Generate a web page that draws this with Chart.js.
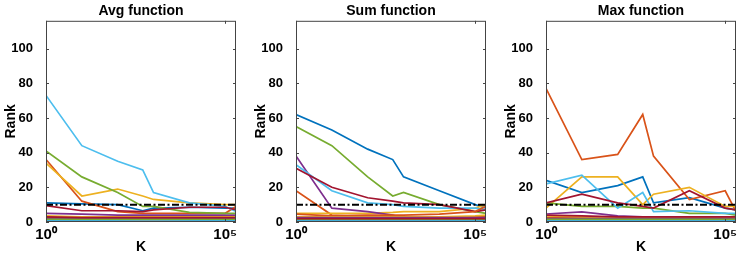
<!DOCTYPE html>
<html><head><meta charset="utf-8">
<script src="https://cdn.jsdelivr.net/npm/chart.js@4"></script>
<style>
html,body{margin:0;padding:0;background:#fff;width:743px;height:258px;overflow:hidden}
.p{position:absolute;top:0;width:243px;height:258px}
</style></head><body>
<div class="p" style="left:0px"><canvas id="c0"></canvas></div>
<div class="p" style="left:250px"><canvas id="c1"></canvas></div>
<div class="p" style="left:500px"><canvas id="c2"></canvas></div>
<script>
const kValues = [1, 10, 100, 500, 1000, 10000, 100000, 200000];
const xTickValues = [1, 100000];
const xTickLabels = ['10\u2070', '10\u2075'];
const yTickValues = [0, 20, 40, 60, 80, 100];
const thresholdRank = 10;
const panelTitles = ['Avg function', 'Sum function', 'Max function'];
const seriesColors = ['#0072BD', '#D95319', '#EDB120', '#7E2F8E', '#77AC30', '#4DBEEE', '#A2142F'];

const avgRanks = [
  [11, 10.5, 10, 6.5, 8, 8.5, 8, 8],
  [36, 12, 6, 5, 5, 5, 5, 9],
  [34, 15, 19, 15, 13, 11, 10, 10],
  [5, 4.5, 4, 4, 4, 4, 4, 4],
  [41, 26, 17, 9, 9, 5.5, 5, 5],
  [73, 44, 35, 30, 17, 11, 9, 6],
  [9.5, 6.5, 6.5, 6, 7, 8.5, 8.5, 7],
  [1, 1, 1, 1, 1, 1, 1, 1],
  [2.5, 2, 1.5, 1, 1, 1.5, 2, 2],
  [3.5, 3, 3, 3, 3, 3, 3, 3],
  [2, 2, 2, 2, 2, 2, 2, 2],
  [1.5, 1.5, 1.5, 1.5, 1.5, 1.5, 1.5, 1.5],
  [0.5, 0.5, 0.5, 0.5, 0.5, 0.5, 0.5, 0.5],
  [3, 2.5, 2.5, 2.5, 2.5, 2.5, 2.5, 2.5]
];
const sumRanks = [
  [62, 53, 42, 36, 26, 18, 10, 8],
  [18, 4, 3, 3, 3, 3, 3, 3],
  [5, 5, 5, 5.5, 6, 6, 8, 10],
  [38, 8, 6, 4, 2, 2, 2, 2],
  [55, 44, 26, 15, 17, 10, 6, 5],
  [33, 18, 11, 10, 9, 8, 8, 7],
  [31, 20, 14, 12, 11, 10, 6, 7],
  [1, 1, 1, 1, 1, 1, 1, 1],
  [4.5, 3.5, 4, 4, 4, 4.5, 6, 9],
  [3, 3, 3, 3, 3, 3, 3.5, 4],
  [2.5, 2.5, 2.5, 2.5, 2.5, 2.5, 2.5, 2.5],
  [1.5, 1.5, 1.5, 1.5, 1.5, 1.5, 1.5, 1.5],
  [0.5, 0.5, 0.5, 0.5, 0.5, 0.5, 0.5, 0.5],
  [2, 2, 2, 2, 2, 2, 2, 2]
];
const maxRanks = [
  [24, 17, 21, 26, 11, 14, 8, 7],
  [77, 36, 39, 62, 38, 13, 18, 6],
  [8, 26, 26, 10, 16, 20, 9, 9],
  [4.6, 5.8, 3.5, 3, 3, 3, 3, 3],
  [11, 9, 9, 8, 8, 5, 5, 4],
  [22, 27, 8, 17, 6, 6.5, 5, 5],
  [11, 16, 11, 9, 8, 18, 8, 7],
  [1, 1, 1, 1, 1, 1, 1, 1],
  [2.5, 2.5, 2, 2, 2, 2, 2, 2],
  [3.5, 3, 3, 3, 3, 3, 3, 3],
  [2, 2, 2, 2, 2, 2, 2, 2],
  [1.5, 1.5, 1.5, 1.5, 1.5, 1.5, 1.5, 1.5],
  [0.5, 0.5, 0.5, 0.5, 0.5, 0.5, 0.5, 0.5],
  [4, 3.5, 3, 3, 3, 3, 3, 3]
];
const panelData = [avgRanks, sumRanks, maxRanks];

const FONT = "'Liberation Sans', Arial, Helvetica, sans-serif";

const framePlugin = {
  id: 'frame',
  afterDatasetsDraw(chart) {
    const {ctx, chartArea: a, scales: {x, y}} = chart;
    ctx.save();
    ctx.strokeStyle = '#444';
    ctx.lineWidth = 1;
    ctx.strokeRect(a.left + 0.5, a.top + 0.5, a.right - a.left - 1, a.bottom - a.top - 1);
    ctx.beginPath();
    const tl = 3;
    yTickValues.forEach(v => {
      const py = Math.round(y.getPixelForValue(v)) + 0.5;
      ctx.moveTo(a.left, py); ctx.lineTo(a.left + tl, py);
      ctx.moveTo(a.right, py); ctx.lineTo(a.right - tl, py);
    });
    xTickValues.forEach(v => {
      const px = Math.round(x.getPixelForValue(v)) + 0.5;
      ctx.moveTo(px, a.bottom); ctx.lineTo(px, a.bottom - tl);
      ctx.moveTo(px, a.top); ctx.lineTo(px, a.top + tl);
    });
    ctx.stroke();
    ctx.restore();
  }
};

panelData.forEach((series, p) => {
  const datasets = [];
  datasets.push({
    data: [{x: kValues[0], y: thresholdRank}, {x: kValues[kValues.length - 1], y: thresholdRank}],
    borderColor: '#000', borderWidth: 2, borderDash: [7, 2.5, 2, 2.5],
    pointRadius: 0, order: -1000
  });
  series.forEach((vals, i) => {
    datasets.push({
      data: kValues.map((k, j) => ({x: k, y: vals[j]})),
      borderColor: seriesColors[i % seriesColors.length],
      borderWidth: 1.7, pointRadius: 0, tension: 0, order: -i
    });
  });
  new Chart(document.getElementById('c' + p), {
    type: 'line',
    data: {datasets},
    plugins: [framePlugin],
    options: {
      responsive: true, maintainAspectRatio: false, animation: false, devicePixelRatio: 1,
      layout: {padding: {left: 0, right: 7, top: 0, bottom: 0}},
      plugins: {
        legend: {display: false}, tooltip: {enabled: false},
        title: {display: true, text: panelTitles[p], fullSize: false, color: '#000',
          font: {family: FONT, size: 14, weight: 'bold', lineHeight: 1.2}, padding: {top: 3, bottom: 1}}
      },
      scales: {
        x: {
          type: 'logarithmic', min: 1, max: 200000,
          afterBuildTicks: s => { s.ticks = xTickValues.map(v => ({value: v})); },
          afterFit: s => { s.height = 36; },
          ticks: {
            callback: (v) => { const i = xTickValues.indexOf(v); return i >= 0 ? xTickLabels[i] : ''; },
            font: {family: FONT, size: 15, weight: 'bold'}, color: '#000', padding: -4,
            maxRotation: 0, autoSkip: false
          },
          grid: {display: false}, border: {display: false},
          title: {display: true, text: 'K', color: '#000', font: {family: FONT, size: 14, weight: 'bold', lineHeight: 1.2}, padding: {top: 0, bottom: 2}}
        },
        y: {
          type: 'linear', min: 0, max: 116,
          afterBuildTicks: s => { s.ticks = yTickValues.map(v => ({value: v})); },
          afterFit: s => { s.width = 46; },
          ticks: {font: {family: FONT, size: 13, weight: 'bold'}, color: '#000', padding: 5},
          grid: {display: false}, border: {display: false},
          title: {display: true, text: 'Rank', color: '#000', font: {family: FONT, size: 14, weight: 'bold', lineHeight: 1.2}, padding: {top: 3, bottom: 0}}
        }
      }
    }
  });
});
</script>
</body></html>
